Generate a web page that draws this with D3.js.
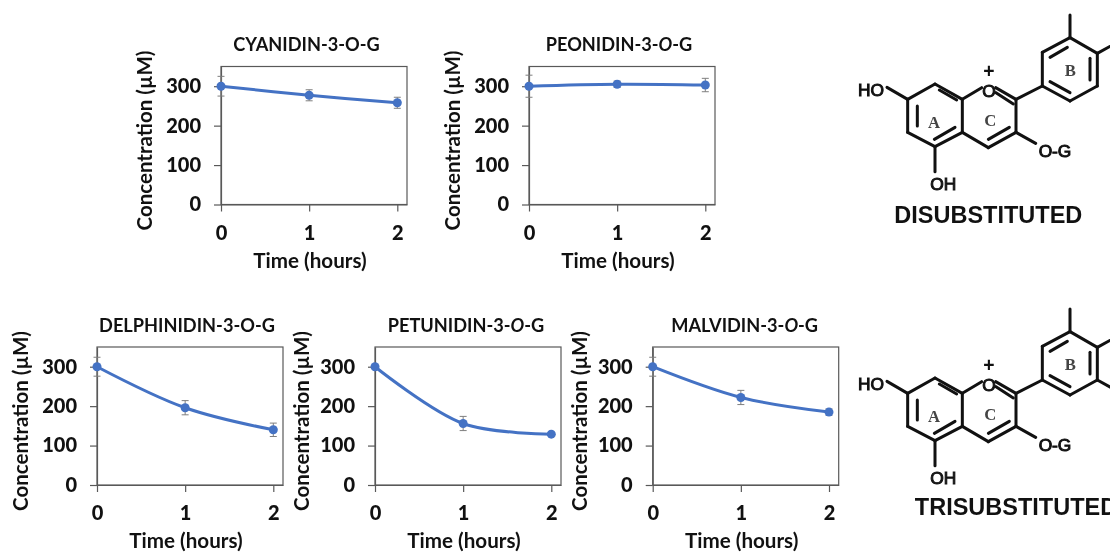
<!DOCTYPE html>
<html>
<head>
<meta charset="utf-8">
<script src="https://cdn.jsdelivr.net/npm/d3@7"></script>
<style>
  html, body { margin: 0; padding: 0; background: #fff; overflow: hidden; }
  svg { display: block; filter: blur(0.4px); }
  text { font-family: Lato, sans-serif; font-weight: 700; fill: #111; }
  .chem text { font-family: "Liberation Sans", Arial, sans-serif; }
  .axis path, .axis line { stroke: #595959; stroke-width: 1.2; }
</style>
</head>
<body>
<svg id="chart" width="1110" height="554"></svg>
<script>
const width = 1110, height = 554;

const hours = [0, 1, 2];
const yTicks = [0, 100, 200, 300];

// one title part per entry, the odd ones are italic
const titles = [
  ["CYANIDIN-3-O-G"],
  ["PEONIDIN-3-", "O", "-G"],
  ["DELPHINIDIN-3-O-G"],
  ["PETUNIDIN-3-", "O", "-G"],
  ["MALVIDIN-3-", "O", "-G"]
];
const values = [
  [300, 277, 258],
  [300, 305, 303],
  [300, 196, 140],
  [300, 156, 129],
  [300, 222, 185]
];
const errors = [
  [25, 14, 14],
  [28, 8, 17],
  [24, 18, 17],
  [4, 18, 3],
  [24, 18, 8]
];

// where each panel goes on the page
const panelLeft = [221, 529, 97, 375, 652.7];
const panelTop = [66.5, 66.5, 347, 347, 347];
const labelOffset = [76, 76, 76, 73, 73];
const titleOffset = [-7.5, -3, -3, -2, -1];
const plotW = 186, plotH = 138;

const svg = d3.select("#chart");

titles.forEach((t, i) => drawPanel(i));

function drawPanel(i) {
  const x = d3.scaleLinear().domain([0, 2.11]).range([0, plotW]);
  const y = d3.scaleLinear().domain([0, 350]).range([plotH, 0]);

  const g = svg.append("g")
    .attr("transform", `translate(${panelLeft[i]},${panelTop[i]})`);

  //frame
  g.append("rect")
    .attr("width", plotW)
    .attr("height", plotH)
    .attr("fill", "none")
    .attr("stroke", "#595959")
    .attr("stroke-width", 1.2);

  const xAxis = g.append("g")
    .attr("class", "axis")
    .attr("transform", `translate(0,${plotH})`)
    .call(d3.axisBottom(x).tickValues(hours).tickFormat(d3.format("d")).tickSize(7).tickSizeOuter(0));
  xAxis.selectAll("text").attr("y", 21).attr("font-size", 20).style("font-family", "Lato").style("font-weight", 900);

  const yAxis = g.append("g")
    .attr("class", "axis")
    .call(d3.axisLeft(y).tickValues(yTicks).tickFormat(d3.format("d")).tickSize(7).tickSizeOuter(0));
  yAxis.selectAll("text").attr("x", -20).attr("font-size", 20).style("font-family", "Lato").style("font-weight", 900);

  //error bars go under the line
  const rows = hours.map((h, k) => ({ h, v: values[i][k], e: errors[i][k] }));
  g.append("g")
    .selectAll("path")
    .data(rows)
    .join("path")
    .attr("d", d => {
      const cx = x(d.h), y1 = y(d.v + d.e), y2 = y(d.v - d.e);
      return `M${cx - 3.5},${y1}H${cx + 3.5}M${cx},${y1}V${y2}M${cx - 3.5},${y2}H${cx + 3.5}`;
    })
    .attr("fill", "none")
    .attr("stroke", "#7f7f7f")
    .attr("stroke-width", 1);

  const line = d3.line()
    .x(d => x(d.h))
    .y(d => y(d.v))
    .curve(d3.curveCatmullRom.alpha(0.5));

  g.append("path")
    .datum(rows)
    .attr("d", line)
    .attr("fill", "none")
    .attr("stroke", "#4472c4")
    .attr("stroke-width", 3);

  g.append("g")
    .selectAll("circle")
    .data(rows)
    .join("circle")
    .attr("cx", d => x(d.h))
    .attr("cy", d => y(d.v))
    .attr("r", 4.5)
    .attr("fill", "#4472c4");

  const title = g.append("text")
    .attr("x", plotW / 2 + titleOffset[i])
    .attr("y", -21.5)
    .attr("dy", "0.35em")
    .attr("text-anchor", "middle")
    .attr("font-size", 18.2);
  titles[i].forEach((part, k) => {
    title.append("tspan").text(part).attr("font-style", k % 2 ? "italic" : "normal");
  });

  g.append("text")
    .attr("x", plotW / 2 - 4)
    .attr("y", plotH + 56)
    .attr("dy", "0.35em")
    .attr("text-anchor", "middle")
    .attr("font-size", 20.6)
    .text("Time (hours)");

  g.append("text")
    .attr("transform", `translate(${-labelOffset[i]},${plotH / 2 + 5}) rotate(-90)`)
    .attr("dy", "0.35em")
    .attr("text-anchor", "middle")
    .attr("font-size", 20.5)
    .text("Concentration (µM)");
}

// structures, bond ends measured on the reference at 3x
const bonds = [
  [203, 298, 285, 252], [285, 252, 367, 298], [367, 298, 367, 397], [367, 397, 285, 440],
  [285, 440, 203, 397], [203, 397, 203, 298],
  [367, 298, 425, 263], [467, 263, 528, 298], [528, 298, 528, 397], [528, 397, 445, 443], [445, 443, 367, 397],
  [607, 157, 690, 113], [690, 113, 772, 160], [772, 160, 772, 258], [772, 258, 690, 303],
  [690, 303, 607, 258], [607, 258, 607, 157],
  [528, 298, 607, 258], [690, 113, 690, 45], [772, 160, 830, 128],
  [203, 298, 141, 262], [285, 440, 285, 515], [528, 397, 587, 430],
  [232, 318, 232, 378], [298, 270, 350, 300], [283, 418, 345, 382],
  [468, 278, 520, 312], [445, 418, 508, 382],
  [630, 172, 682, 142], [750, 175, 750, 240], [630, 245, 690, 278]
];
const extraBond = [772, 258, 830, 290];
const atomLabels = [
  ["HO", 93, 270], ["O", 447, 272], ["O-G", 645, 453], ["OH", 310, 550]
];
const ringLabels = [["A", 282, 365], ["C", 451, 361], ["B", 691, 210]];

drawStructure(840, 0, "DISUBSTITUTED", 445, 643, false);
drawStructure(840, 294, "TRISUBSTITUTED", 528, 638, true);

function drawStructure(ox, oy, name, nameX, nameY, tri) {
  const g = svg.append("g")
    .attr("class", "chem")
    .attr("transform", `translate(${ox},${oy}) scale(${1 / 3})`);

  g.append("g")
    .selectAll("line")
    .data(tri ? bonds.concat([extraBond]) : bonds)
    .join("line")
    .attr("x1", d => d[0])
    .attr("y1", d => d[1])
    .attr("x2", d => d[2])
    .attr("y2", d => d[3])
    .attr("stroke", "#111")
    .attr("stroke-width", 9)
    .attr("stroke-linecap", "round");

  g.selectAll("text.atom")
    .data(atomLabels)
    .join("text")
    .attr("class", "atom")
    .attr("x", d => d[1])
    .attr("y", d => d[2])
    .attr("dy", "0.36em")
    .attr("text-anchor", "middle")
    .attr("font-size", 52)
    .style("font-weight", 400)
    .style("stroke", "#111")
    .style("stroke-width", 3)
    .text(d => d[0]);

  g.append("text")
    .attr("x", 447)
    .attr("y", 212)
    .attr("dy", "0.36em")
    .attr("text-anchor", "middle")
    .attr("font-size", 58)
    .text("+");

  g.selectAll("text.ring")
    .data(ringLabels)
    .join("text")
    .attr("class", "ring")
    .attr("x", d => d[1])
    .attr("y", d => d[2])
    .attr("dy", "0.36em")
    .attr("text-anchor", "middle")
    .attr("font-size", 50)
    .style("font-family", "Liberation Serif")
    .style("fill", "#444")
    .text(d => d[0]);

  g.append("text")
    .attr("x", nameX)
    .attr("y", nameY)
    .attr("dy", "0.36em")
    .attr("text-anchor", "middle")
    .attr("font-size", 70.5)
    .text(name);
}
</script>
</body>
</html>
